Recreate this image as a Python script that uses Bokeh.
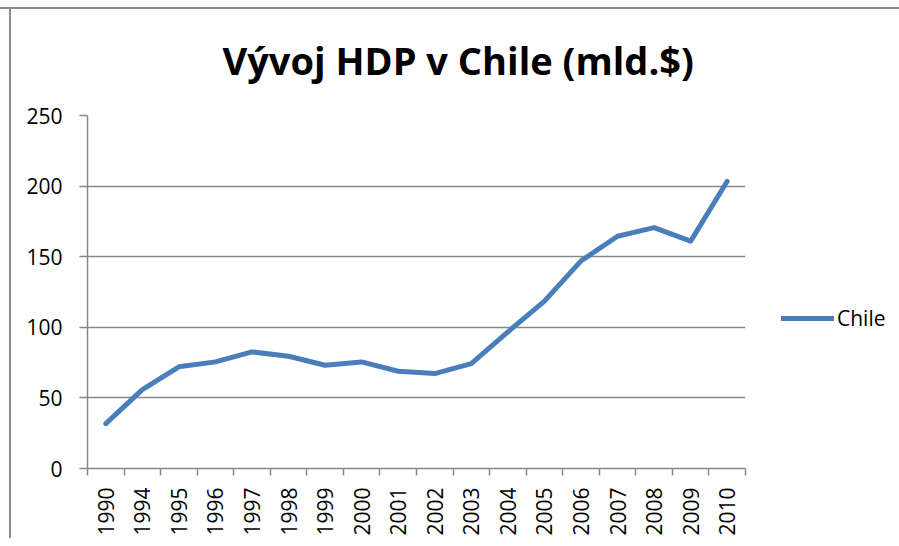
from bokeh.plotting import figure
from bokeh.models import Range1d, FixedTicker, Legend, LegendItem, Title
from bokeh.embed import file_html
from bokeh.resources import INLINE
import math

years = ["1990", "1994", "1995", "1996", "1997", "1998", "1999", "2000", "2001",
         "2002", "2003", "2004", "2005", "2006", "2007", "2008", "2009", "2010"]
gdp = [31.8, 55.9, 72.0, 75.5, 82.6, 79.5, 73.1, 75.5, 68.9,
       67.2, 74.3, 96.7, 118.5, 147.0, 164.5, 170.6, 161.0, 203.4]
y_ticks = [0, 50, 100, 150, 200, 250]
title_text = "Vývoj HDP v Chile (mld.$)"
series_name = "Chile"

FONT = "Open Sans"
GRID = "#878787"
BLUE = "#4A7EBB"
FRAME = "#8c8c8c"

xs = [i + 0.5 for i in range(len(years))]

p = figure(frame_width=658, frame_height=353, output_backend="svg", toolbar_location=None,
           x_range=Range1d(0, len(years)), y_range=Range1d(0, 250),
           min_border_left=87, min_border_right=146, min_border_bottom=70,
           min_border_top=115)
p.outline_line_color = None
p.background_fill_color = "white"
p.border_fill_alpha = 0
p.styles = {
    "background": (f"linear-gradient({FRAME}, {FRAME}) 0px 7px / 100% 2px no-repeat, "
                   f"linear-gradient({FRAME}, {FRAME}) 9px 7px / 2px 100% no-repeat, white"),
}

t = Title(text=title_text, align="left", text_font=FONT, text_font_size="38px",
          text_font_style="bold", text_color="black", standoff=60, offset=135)
p.add_layout(t, "above")

r = p.line(xs, gdp, line_color=BLUE, line_width=5, line_join="round", line_cap="round")

# x axis
p.xaxis.ticker = FixedTicker(ticks=xs, minor_ticks=list(range(len(years) + 1)))
p.xaxis.major_label_overrides = {x: y for x, y in zip(xs, years)}
p.xaxis.major_label_orientation = math.pi / 2
p.xaxis.major_tick_line_color = None
p.xaxis.minor_tick_line_color = GRID
p.xaxis.minor_tick_line_width = 1.5
p.xaxis.minor_tick_out = 7
p.xaxis.minor_tick_in = 0
p.xaxis.axis_line_color = GRID
p.xaxis.axis_line_width = 1.5
p.xaxis.major_label_text_font = FONT
p.xaxis.major_label_text_font_size = "21px"
p.xaxis.major_label_text_color = "black"
p.xaxis.major_label_standoff = 12

# y axis
p.yaxis.ticker = FixedTicker(ticks=y_ticks)
p.yaxis.major_tick_line_color = GRID
p.yaxis.major_tick_line_width = 1.5
p.yaxis.major_tick_out = 8
p.yaxis.major_tick_in = 0
p.yaxis.minor_tick_line_color = None
p.yaxis.axis_line_color = GRID
p.yaxis.axis_line_width = 1.5
p.yaxis.major_label_text_font = FONT
p.yaxis.major_label_text_font_size = "21px"
p.yaxis.major_label_text_color = "black"
p.yaxis.major_label_standoff = 17

p.xgrid.grid_line_color = None
p.ygrid.grid_line_color = GRID
p.ygrid.grid_line_width = 1.5

legend = Legend(items=[LegendItem(label=series_name, renderers=[r])],
                location=(36, 136), orientation="vertical",
                label_text_font=FONT, label_text_font_size="21px",
                label_text_color="black", glyph_width=53, glyph_height=20,
                label_standoff=3, padding=0, margin=0, spacing=0,
                border_line_color=None, background_fill_alpha=0)
p.add_layout(legend, "right")

open("out.html", "w").write(file_html(p, INLINE))
